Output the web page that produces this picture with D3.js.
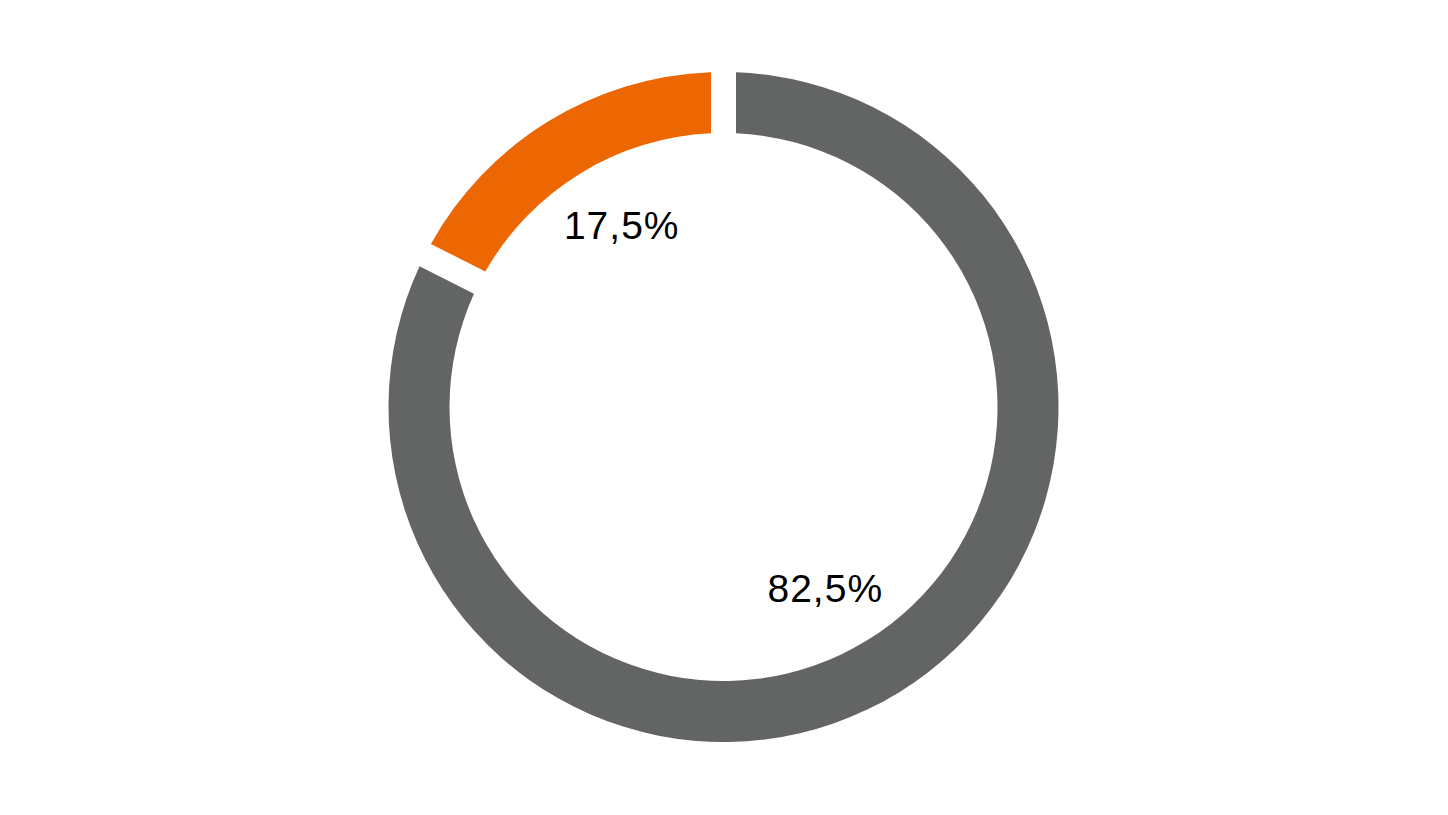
<!DOCTYPE html>
<html>
<head>
  <meta charset="utf-8">
  <title>Donut</title>
  <script src="https://d3js.org/d3.v7.min.js"></script>
  <style>
    body { margin: 0; background: #ffffff; }
    .label { font-family: "Liberation Sans", Arial, sans-serif; font-size: 39px; fill: #000; letter-spacing: 1px; }
  </style>
</head>
<body>
  <script>
    var labels = ["Grey", "Orange"];
    var values = [82.5, 17.5];
    var valueText = ["82,5%", "17,5%"];
    var colors = ["#636564", "#ec6602"];

    var width = 1448, height = 815;
    var cx = 723.5, cy = 407;
    var outerR = 335, innerR = 274;

    var svg = d3.select("body").append("svg")
      .attr("width", width)
      .attr("height", height);

    var g = svg.append("g").attr("transform", "translate(" + cx + "," + cy + ")");

    var pie = d3.pie().sort(null).value(function(d) { return d; });
    var arcs = pie(values);

    var padR = Math.sqrt(innerR * innerR + outerR * outerR);
    var arc = d3.arc()
      .innerRadius(innerR)
      .outerRadius(outerR)
      .padRadius(padR)
      .padAngle(25 / padR);

    g.selectAll("path")
      .data(arcs)
      .enter()
      .append("path")
      .attr("d", arc)
      .attr("fill", function(d, i) { return colors[i]; });

    // labels sit a touch past the slice middle
    var labelR = 208, shift = 2.2 * Math.PI / 180;
    function labelPos(d) {
      var a = (d.startAngle + d.endAngle) / 2 + shift;
      return [labelR * Math.sin(a), -labelR * Math.cos(a)];
    }

    g.selectAll(".label")
      .data(arcs)
      .enter()
      .append("text")
      .attr("class", "label")
      .attr("text-anchor", "middle")
      .attr("dy", "0.34em")
      .attr("transform", function(d) { return "translate(" + labelPos(d) + ")"; })
      .text(function(d, i) { return valueText[i]; });
  </script>
</body>
</html>
